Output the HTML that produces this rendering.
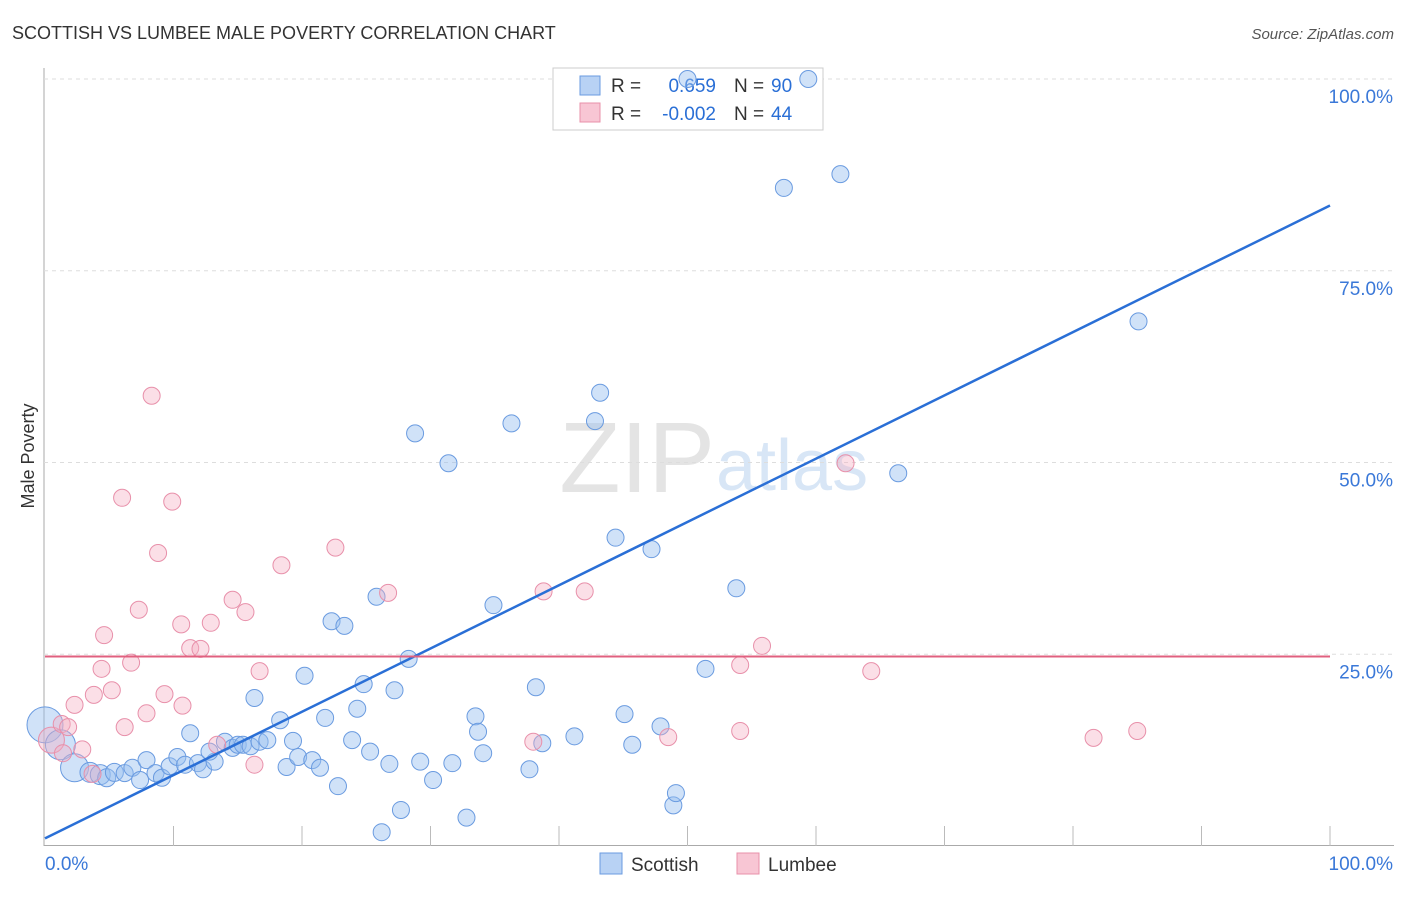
<!DOCTYPE html>
<html><head><meta charset="utf-8"><style>
body{margin:0;background:#fff;font-family:"Liberation Sans",sans-serif;}
svg text{font-family:"Liberation Sans",sans-serif;}
</style></head><body>
<svg id="c" width="1406" height="892">
<text x="12" y="39" font-size="18" fill="#333">SCOTTISH VS LUMBEE MALE POVERTY CORRELATION CHART</text>
<text x="1394" y="39" font-size="15" fill="#555" font-style="italic" text-anchor="end">Source: ZipAtlas.com</text>
<text x="34" y="456" font-size="18" fill="#333" transform="rotate(-90 34 456)" text-anchor="middle">Male Poverty</text>
<text x="715" y="492" font-size="100" fill="#e4e4e4" text-anchor="end" font-family="Liberation Serif">ZIP</text>
<text x="716" y="490" font-size="72" fill="#d8e6f6">atlas</text>
<g id="grid"></g>
<g>
<rect x="553" y="68" width="270" height="62" fill="#fff" stroke="#ccc"/>
<rect x="580" y="76" width="20" height="19" fill="#b8d2f4" stroke="#6a9be0"/>
<text x="611" y="92" font-size="19" fill="#333">R =</text>
<text x="716" y="92" font-size="19" fill="#2a6fd6" text-anchor="end">0.659</text>
<text x="734" y="92" font-size="19" fill="#333">N =</text>
<text x="771" y="92" font-size="19" fill="#2a6fd6">90</text>
<rect x="580" y="103" width="20" height="19" fill="#f8c6d4" stroke="#e890aa"/>
<text x="611" y="120" font-size="19" fill="#333">R =</text>
<text x="716" y="120" font-size="19" fill="#2a6fd6" text-anchor="end">-0.002</text>
<text x="734" y="120" font-size="19" fill="#333">N =</text>
<text x="771" y="120" font-size="19" fill="#2a6fd6">44</text>
</g>
<g id="pts"></g><g id="lines"></g>
<g>
<rect x="600" y="853" width="22" height="21" fill="#b8d2f4" stroke="#6a9be0"/>
<text x="631" y="871" font-size="19" fill="#333">Scottish</text>
<rect x="737" y="853" width="22" height="21" fill="#f8c6d4" stroke="#e890aa"/>
<text x="768" y="871" font-size="19" fill="#333">Lumbee</text>
</g>
</svg>
<script>
const blueX=[0,1.2,2.3,3.5,4.3,4.8,5.4,6.2,6.8,7.4,7.9,8.6,9.1,9.7,10.3,10.9,11.3,11.9,12.3,13.2,12.8,14.0,14.6,15.0,15.4,16.0,16.3,16.7,17.3,18.3,18.8,19.3,19.7,20.2,20.8,21.4,21.8,22.3,22.8,23.3,23.9,24.3,24.8,25.3,25.8,26.2,26.8,27.2,27.7,28.3,28.8,29.2,30.2,31.4,31.7,32.8,33.5,33.7,34.1,34.9,36.3,37.7,38.2,38.7,41.2,42.8,43.2,44.4,45.1,45.7,47.2,47.9,48.9,49.1,51.4,53.8,57.5,61.9,66.4,85.1,50.0,59.4];
const blueY=[15.8,13.2,10.2,9.6,9.3,8.9,9.6,9.5,10.2,8.6,11.2,9.5,8.9,10.4,11.6,10.6,14.7,10.8,10.0,11.0,12.3,13.6,12.8,13.2,13.2,13.0,19.3,13.6,13.8,16.4,10.3,13.7,11.6,22.2,11.2,10.2,16.7,29.3,7.8,28.7,13.8,17.9,21.1,12.3,32.5,1.8,10.7,20.3,4.7,24.4,53.8,11.0,8.6,49.9,10.8,3.7,16.9,14.9,12.1,31.4,55.1,10.0,20.7,13.4,14.3,55.4,59.1,40.2,17.2,13.2,38.7,15.6,5.3,6.9,23.1,33.6,85.8,87.6,48.6,68.4,100,100];
const blueSize=[18,15,14,10,10,9,9];
const pinkX=[0.5,1.3,1.8,2.3,2.9,3.7,3.8,4.4,4.6,5.2,6.0,6.2,6.7,7.3,7.9,8.3,8.8,9.3,9.9,10.6,10.7,11.3,12.1,12.9,13.4,14.6,15.6,16.3,16.7,18.4,22.6,26.7,38.0,38.8,42.0,48.5,54.1,54.1,55.8,62.3,64.3,81.6,85.0,1.4];
const pinkY=[13.8,15.9,15.5,18.4,12.6,9.4,19.7,23.1,27.5,20.3,45.4,15.5,23.9,30.8,17.3,58.7,38.2,19.8,44.9,28.9,18.3,25.8,25.7,29.1,13.2,32.1,30.5,10.6,22.8,36.6,38.9,33.0,13.6,33.2,33.2,14.2,15.0,23.6,26.1,49.9,22.8,14.1,15.0,12.1];
const yTicks=[25,50,75,100];
const blueFit=[1.0,83.5];
const pinkFit=[24.7,24.7];
const NS="http://www.w3.org/2000/svg";
const sx=v=>45+v*12.85, sy=v=>846-v*7.67;
function mk(t,a,p){const e=document.createElementNS(NS,t);for(const k in a)e.setAttribute(k,a[k]);p.appendChild(e);return e;}
const grid=document.getElementById('grid');
mk('line',{x1:44,y1:68,x2:44,y2:846,stroke:'#aaa'},grid);
mk('line',{x1:44,y1:845.5,x2:1394,y2:845.5,stroke:'#aaa'},grid);
for(let i=1;i<=10;i++){mk('line',{x1:sx(i*10),y1:826,x2:sx(i*10),y2:846,stroke:'#bbb'},grid);}
yTicks.forEach(v=>{
 const l=mk('line',{x1:44,y1:sy(v),x2:1394,y2:sy(v),stroke:'#ddd','stroke-dasharray':'4 4'},grid);
 
 
 const t=mk('text',{x:1393,y:sy(v)+24,'font-size':19,fill:'#3a78d8','text-anchor':'end'},grid);
 t.textContent=v.toFixed(1)+'%';
 
 
});
const x0=mk('text',{x:45,y:870,'font-size':19,fill:'#3a78d8'},grid);x0.textContent='0.0%';


const x1=mk('text',{x:1393,y:870,'font-size':19,fill:'#3a78d8','text-anchor':'end'},grid);x1.textContent='100.0%';


const pts=document.getElementById('pts');
blueX.forEach((v,i)=>{const c=mk('circle',{cx:sx(v),cy:sy(blueY[i]),r:blueSize[i]||8.5,fill:'rgba(150,190,240,0.45)',stroke:'#6a9be0','stroke-width':1},pts);
 
 });
pinkX.forEach((v,i)=>{const c=mk('circle',{cx:sx(v),cy:sy(pinkY[i]),r:i==0?13:8.5,fill:'rgba(245,175,195,0.4)',stroke:'#e890aa','stroke-width':1},pts);
 
 });
const lines=document.getElementById('lines');
const bl=mk('line',{x1:sx(0),y1:sy(blueFit[0]),x2:sx(100),y2:sy(blueFit[1]),stroke:'#2a6fd6','stroke-width':2.5},lines);


const pl=mk('line',{x1:sx(0),y1:sy(pinkFit[0]),x2:sx(100),y2:sy(pinkFit[1]),stroke:'#e0607f','stroke-width':2},lines);


</script>
</body></html>
